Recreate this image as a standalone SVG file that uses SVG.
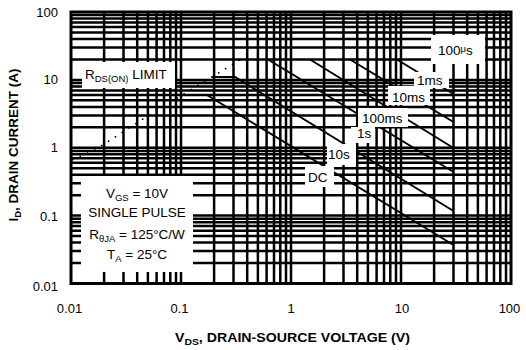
<svg xmlns="http://www.w3.org/2000/svg" width="526" height="350" viewBox="0 0 526 350">
<style>
.grid{stroke:#000;stroke-width:2.5;fill:none}
.frame{stroke:#000;stroke-width:3;fill:none}
.soa{stroke:#000;stroke-width:2;fill:none}
.dot{stroke:#000;stroke-width:1.6;fill:none;stroke-dasharray:1.6 6.5}
.box{fill:#fff;stroke:none}
text{font-family:"Liberation Sans",Arial,sans-serif;fill:#000}
.tick{font-size:13px}
.lbl{font-size:13.5px}
.title{font-size:13px;font-weight:bold}
.sub{font-size:9.5px}
</style>
<rect x="0" y="0" width="526" height="350" fill="#fff"/>
<g id="grid">
<path class="grid" d="M104.1 12V283.5M123.5 12V283.5M137.2 12V283.5M147.9 12V283.5M156.6 12V283.5M164 12V283.5M170.3 12V283.5M176 12V283.5M181 12V283.5M214.1 12V283.5M233.5 12V283.5M247.2 12V283.5M257.9 12V283.5M266.6 12V283.5M274 12V283.5M280.3 12V283.5M286 12V283.5M291 12V283.5M324.1 12V283.5M343.5 12V283.5M357.2 12V283.5M367.9 12V283.5M376.6 12V283.5M384 12V283.5M390.3 12V283.5M396 12V283.5M401 12V283.5M434.1 12V283.5M453.5 12V283.5M467.2 12V283.5M477.9 12V283.5M486.6 12V283.5M494 12V283.5M500.3 12V283.5M506 12V283.5"/>
<path class="grid" d="M71 263.1H511M71 251.1H511M71 242.6H511M71 236.1H511M71 230.7H511M71 226.1H511M71 222.2H511M71 218.7H511M71 215.6H511M71 195.2H511M71 183.2H511M71 174.8H511M71 168.2H511M71 162.8H511M71 158.3H511M71 154.3H511M71 150.9H511M71 147.8H511M71 127.3H511M71 115.4H511M71 106.9H511M71 100.3H511M71 94.9H511M71 90.4H511M71 86.5H511M71 83H511M71 79.9H511M71 59.4H511M71 47.5H511M71 39H511M71 32.4H511M71 27.1H511M71 22.5H511M71 18.6H511M71 15.1H511"/>
</g>
<g id="connectors">
<path id="dc" class="soa" d="M207 95L453.5 245"/>
<path id="s10" class="soa" d="M212 77L235 77L453.5 211"/>
<path id="s1" class="soa" d="M268 59.5L453.5 172"/>
<path id="ms100" class="soa" d="M310 59.5L453.5 148"/>
<path id="ms10" class="soa" d="M350 59.5L453.5 122"/>
<path id="ms1" class="soa" d="M397 59.5L453.5 94"/>
<path id="rds" class="dot" d="M72 160L95 150L143 119L243 58"/>
</g>
<g id="label-boxes">
<rect class="box" x="82" y="62" width="93" height="26"/>
<rect class="box" x="431" y="35" width="54" height="29"/>
<rect class="box" x="414" y="72" width="35" height="16"/>
<rect class="box" x="388" y="86" width="42" height="19"/>
<rect class="box" x="358" y="108" width="50" height="19"/>
<rect class="box" x="351" y="127" width="24" height="16"/>
<rect class="box" x="327" y="144" width="29" height="21"/>
<rect class="box" x="305" y="166" width="29" height="21"/>
<rect class="box" x="81" y="176" width="112" height="96"/>
</g>
<rect id="frame" class="frame" x="71" y="12" width="440" height="271.5"/>
<g id="curve-labels" class="lbl">
<text x="85" y="78.5">R<tspan class="sub" dy="3">DS(ON)</tspan><tspan dy="-3"> LIMIT</tspan></text>
<text x="438" y="55">100<tspan font-size="9.5" dy="-3.5">μ</tspan><tspan dy="3.5">s</tspan></text>
<text x="417" y="85">1ms</text>
<text x="392" y="102">10ms</text>
<text x="362" y="123">100ms</text>
<text x="357" y="138">1s</text>
<text x="328" y="159">10s</text>
<text x="308" y="182">DC</text>
</g>
<g id="conditions" class="lbl" text-anchor="middle">
<text x="137" y="198">V<tspan class="sub" dy="3">GS</tspan><tspan dy="-3"> = 10V</tspan></text>
<text x="137" y="217">SINGLE PULSE</text>
<text x="137" y="239">R<tspan class="sub" dy="3">θJA</tspan><tspan dy="-3"> = 125°C/W</tspan></text>
<text x="137" y="259">T<tspan class="sub" dy="3">A</tspan><tspan dy="-3"> = 25°C</tspan></text>
</g>
<g id="y-ticks" class="tick" text-anchor="end">
<text x="58" y="17">100</text>
<text x="58" y="84">10</text>
<text x="58" y="152">1</text>
<text x="58" y="221">0.1</text>
<text x="58" y="290.5">0.01</text>
</g>
<g id="x-ticks" class="tick" text-anchor="middle">
<text x="69.5" y="313">0.01</text>
<text x="179.5" y="313">0.1</text>
<text x="291" y="313">1</text>
<text x="402" y="313">10</text>
<text x="509.5" y="313">100</text>
</g>
<g id="axis-titles" class="title">
<text x="175" y="342" textLength="235" lengthAdjust="spacingAndGlyphs">V<tspan class="sub" dy="2.5">DS</tspan><tspan dy="-2.5">, DRAIN-SOURCE VOLTAGE (V)</tspan></text>
<text transform="translate(18,145) rotate(-90)" text-anchor="middle" font-size="13.5">I<tspan class="sub" dy="2.5">D</tspan><tspan dy="-2.5">, DRAIN CURRENT (A)</tspan></text>
</g>
</svg>
